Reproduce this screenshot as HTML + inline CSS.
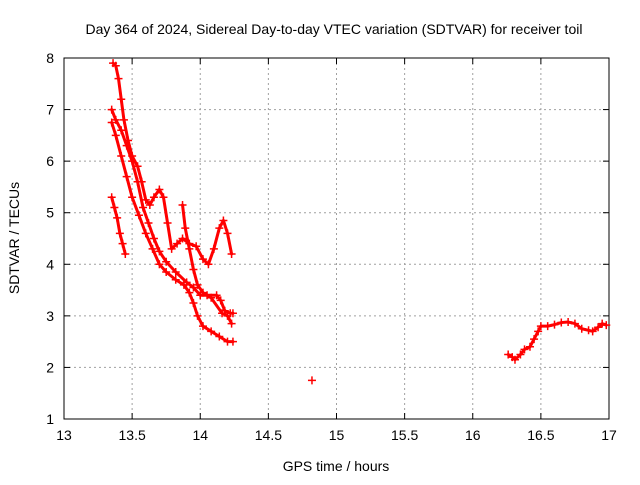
<!DOCTYPE html>
<html><head><meta charset="utf-8"><style>
body{margin:0;background:#fff;}
svg{font-family:"Liberation Sans",Arial,sans-serif;}
</style></head><body>
<svg id="chart" width="640" height="480" viewBox="0 0 640 480">
<rect width="640" height="480" fill="#fff"/>
<g id="grid"></g>
<g id="axes"></g>
<g id="marks"></g>
<text x="334" y="34" text-anchor="middle" font-size="14">Day 364 of 2024, Sidereal Day-to-day VTEC variation (SDTVAR) for receiver toil</text>
<text x="336" y="471" text-anchor="middle" font-size="14">GPS time / hours</text>
<text transform="translate(19,238) rotate(-90)" text-anchor="middle" font-size="14">SDTVAR / TECUs</text>
</svg>
<script>
const xTicks=[13,13.5,14,14.5,15,15.5,16,16.5,17];
const xTickLabels=["13","13.5","14","14.5","15","15.5","16","16.5","17"];
const yTicks=[1,2,3,4,5,6,7,8];
const yTickLabels=["1","2","3","4","5","6","7","8"];
const track1X=[13.36,13.38,13.40,13.42,13.44,13.47,13.50,13.54,13.57,13.60,13.63,13.66,13.70,13.73,13.76,13.79,13.83,13.87,13.92,13.97,14.02,14.06,14.10,14.14,14.17,14.20,14.23];
const track1Y=[7.9,7.85,7.6,7.2,6.8,6.4,6.1,5.9,5.6,5.25,5.15,5.3,5.45,5.3,4.8,4.3,4.4,4.5,4.4,4.35,4.1,4.0,4.3,4.7,4.85,4.6,4.2];
const track2X=[13.35,13.38,13.42,13.46,13.50,13.54,13.58,13.62,13.66,13.70,13.75,13.82,13.90,13.95,14.00,14.05,14.12,14.15,14.18,14.22,14.24];
const track2Y=[7.0,6.8,6.6,6.3,6.0,5.6,5.1,4.8,4.5,4.25,4.05,3.85,3.65,3.55,3.4,3.4,3.4,3.3,3.1,3.05,3.05];
const track3X=[13.35,13.38,13.42,13.46,13.50,13.55,13.60,13.65,13.70,13.75,13.82,13.88,13.92,13.95,13.98,14.02,14.08,14.14,14.20,14.24];
const track3Y=[6.75,6.5,6.1,5.7,5.3,4.95,4.6,4.3,4.0,3.85,3.7,3.6,3.45,3.25,3.0,2.8,2.7,2.6,2.5,2.5];
const track4X=[13.35,13.37,13.39,13.41,13.43,13.45];
const track4Y=[5.3,5.1,4.9,4.6,4.4,4.2];
const track5X=[13.87,13.89,13.92,13.95,13.98,14.02,14.08,14.16,14.20,14.23];
const track5Y=[5.15,4.7,4.3,3.9,3.6,3.45,3.35,3.05,3.0,2.85];
const track6X=[14.82];
const track6Y=[1.75];
const track7X=[16.26,16.29,16.31,16.35,16.38,16.42,16.45,16.48,16.50,16.55,16.60,16.65,16.70,16.75,16.80,16.85,16.88,16.92,16.95,16.98];
const track7Y=[2.25,2.2,2.15,2.25,2.35,2.4,2.55,2.7,2.8,2.8,2.83,2.87,2.88,2.85,2.75,2.72,2.7,2.78,2.85,2.82];
const X0=64,X1=609,Y0=58,Y1=419;
function sx(v){return X0+(v-13)/4*(X1-X0);}
function sy(v){return Y1-(v-1)/7*(Y1-Y0);}
const NS="http://www.w3.org/2000/svg";
function mk(t,a,p){const e=document.createElementNS(NS,t);for(const k in a)e.setAttribute(k,a[k]);p.appendChild(e);return e;}
const grid=document.getElementById('grid'),axes=document.getElementById('axes'),marks=document.getElementById('marks');
xTicks.forEach((t,i)=>{
  const x=sx(t);
  if(i>0&&i<xTicks.length-1){const g=mk('line',{x1:x,x2:x,y1:Y0,y2:Y1,stroke:'#a0a0a0','stroke-dasharray':'2,3'},grid);
  
  }
  mk('line',{x1:x,x2:x,y1:Y1,y2:Y1-6,stroke:'#000'},axes);
  mk('line',{x1:x,x2:x,y1:Y0,y2:Y0+6,stroke:'#000'},axes);
  const l=mk('text',{x:x,y:Y1+21,'text-anchor':'middle','font-size':'14'},axes);
  l.textContent=xTickLabels[i];
  
  
});
yTicks.forEach((t,i)=>{
  const y=sy(t);
  if(i>0&&i<yTicks.length-1){const g=mk('line',{x1:X0,x2:X1,y1:y,y2:y,stroke:'#a0a0a0','stroke-dasharray':'2,3'},grid);
  
  }
  mk('line',{x1:X0,x2:X0+6,y1:y,y2:y,stroke:'#000'},axes);
  mk('line',{x1:X1,x2:X1-6,y1:y,y2:y,stroke:'#000'},axes);
  const l=mk('text',{x:X0-10,y:y+5,'text-anchor':'end','font-size':'14'},axes);
  l.textContent=yTickLabels[i];
  
  
});
const frame=mk('rect',{x:X0,y:Y0,width:X1-X0,height:Y1-Y0,fill:'none',stroke:'#000'},axes);


const tracks=[[track1X,track1Y],[track2X,track2Y],[track3X,track3Y],[track4X,track4Y],[track5X,track5Y],[track6X,track6Y],[track7X,track7Y]];
tracks.forEach((tr,ti)=>{
  const g=mk('g',{},marks);
  
  
  if(tr[0].length>1){
    const pts=tr[0].map((x,i)=>sx(x)+','+sy(tr[1][i])).join(' ');
    mk('polyline',{points:pts,fill:'none',stroke:'#ff0000','stroke-width':'3','stroke-linejoin':'round','stroke-linecap':'round'},g);
  }
  tr[0].forEach((x,i)=>{
    const px=sx(x),py=sy(tr[1][i]);
    const p=mk('path',{d:`M${px-4},${py}H${px+4}M${px},${py-4}V${py+4}`,stroke:'#ff0000','stroke-width':'1.5'},g);
    
    
  });
});
</script>
</body></html>
